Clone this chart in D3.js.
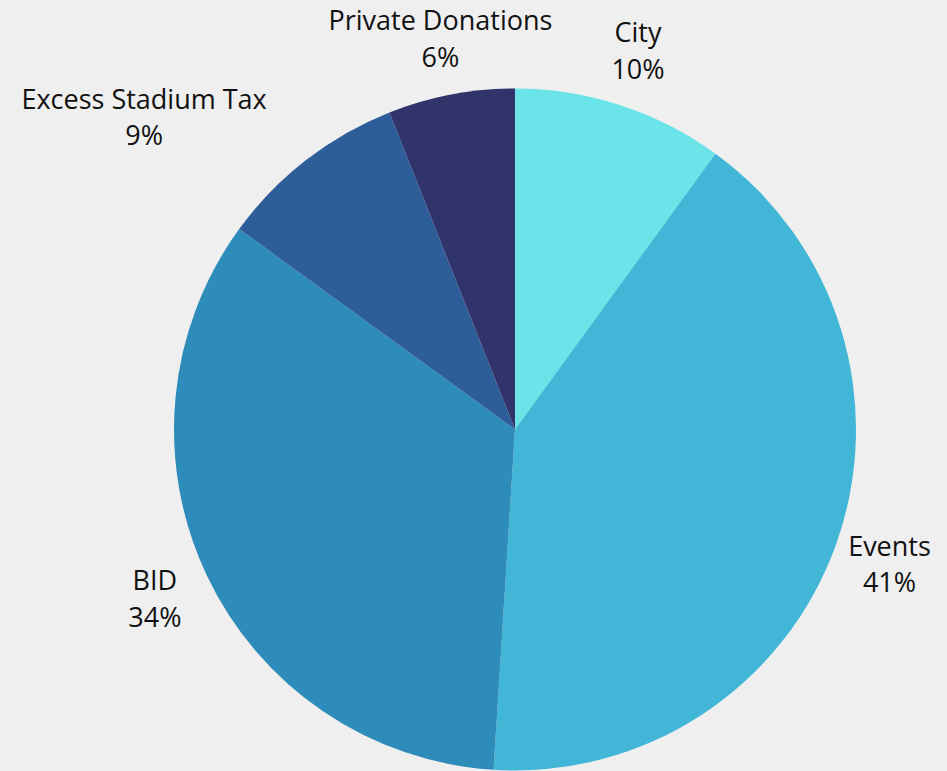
<!DOCTYPE html>
<html lang="en">
<head>
  <meta charset="UTF-8">
  <title>Funding Sources Pie Chart</title>
  <script src="https://d3js.org/d3.v7.min.js"></script>
  <style type="text/css">
    html, body {
      margin: 0;
      padding: 0;
      background: #efefef;
    }
    text {
      font-family: "Open Sans", "Noto Sans", sans-serif;
      font-size: 27px;
      fill: #111;
    }
  </style>
</head>
<body>

<div id="chart-container"></div>

<script>
// Data
const categories = ["City", "Events", "BID", "Excess Stadium Tax", "Private Donations"];
const shares = [10, 41, 34, 9, 6];
const colors = ["#6ae4e8", "#42b6d6", "#2e8cba", "#2e5e99", "#30346a"];

const width = 947, height = 771;
const cx = 515, cy = 429.5, radius = 341;

const svg = d3.select("#chart-container")
  .append("svg")
  .attr("width", width)
  .attr("height", height);

const g = svg.append("g")
  .attr("transform", `translate(${cx},${cy})`);

const pie = d3.pie().sort(null).value(d => d.value);
const arcs = pie(categories.map((c, i) => ({ name: c, value: shares[i], color: colors[i] })));

const arc = d3.arc().innerRadius(0).outerRadius(radius);
const labelArc = d3.arc().innerRadius(398).outerRadius(398);

g.selectAll("path")
  .data(arcs)
  .enter()
  .append("path")
  .attr("d", arc)
  .attr("fill", d => d.data.color);

// the excess stadium tax label sits further out in the original
const labelNudge = { "Excess Stadium Tax": [-127, 2] };

const labels = g.selectAll(".slice-label")
  .data(arcs)
  .enter()
  .append("text")
  .attr("class", "slice-label")
  .attr("text-anchor", "middle")
  .attr("transform", d => {
    const [x, y] = labelArc.centroid(d);
    const n = labelNudge[d.data.name] || [0, 0];
    return `translate(${x + n[0]},${y + n[1]})`;
  });

labels.append("tspan")
  .attr("x", 0)
  .attr("dy", -8.5)
  .text(d => d.data.name);

labels.append("tspan")
  .attr("x", 0)
  .attr("dy", 36.5)
  .text(d => d.data.value + "%");
</script>

</body>
</html>
